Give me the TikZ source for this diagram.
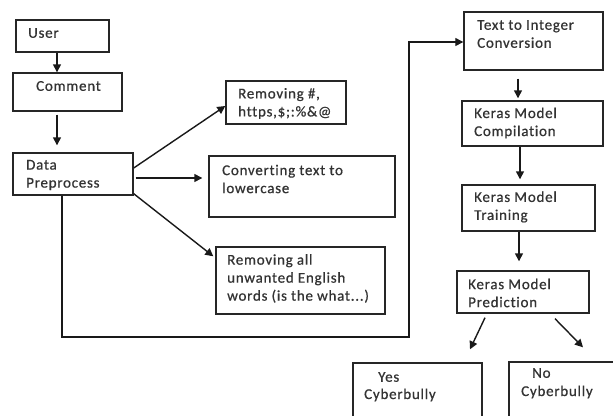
\documentclass[tikz,border=0pt]{standalone}
\usepackage{fontspec}
\setmainfont{Carlito}
\newfontfamily\boxfont{Carlito}[LetterSpace=5.0, FakeBold=0.6, Ligatures={NoCommon}]
\usetikzlibrary{arrows.meta}
\tikzset{
  box/.style={draw=black!85, line width=1.4pt, inner sep=0pt},
  txt/.style={anchor=west, align=left, inner sep=0pt, text=black!80,
    font=\boxfont\fontsize{15}{18}\selectfont},
  arr/.style={draw=black!90, line width=1.4pt, -{Triangle[length=8pt,width=8pt]}},
  conn/.style={draw=black!90, line width=1.3pt}
}
\newcommand{\bx}[5]{\node[box, minimum width={#4-#2}, minimum height={#5-#3}] (#1) at ({(#2+#4)/2},{(#3+#5)/2}) {};}
\begin{document}
\begin{tikzpicture}[x=1pt,y=-1pt]
\clip (0,0) rectangle (613,415);
\fill[white] (0,0) rectangle (613,415);
% boxes
\bx{user}{16}{20}{109}{52}
\bx{comment}{13}{73}{122}{111}
\bx{data}{13}{153}{133}{195}
\bx{remA}{226}{81}{346}{124}
\bx{conv}{209}{156}{395}{217}
\bx{remB}{216}{247}{385}{314}
\bx{tti}{464}{12}{603}{70}
\bx{comp}{462}{101}{603}{146}
\bx{train}{462}{185}{595}{231}
\bx{pred}{457}{271}{589}{313}
\bx{yes}{353}{363}{482}{430}
\bx{no}{509}{362}{630}{430}
% texts
\node[txt] (tuser) at (28,33) {User};
\node[txt] (tcomment) at (36,86) {Comment};
\node[txt] (tdata) at (26,175) {Data\\Preprocess};
\node[txt] (tremA) at (238,103.5) {Removing \#,\\https,\$;:\%\&@};
\node[txt] (tconv) at (222,179) {Converting text to\\lowercase};
\node[txt] (tremB) at (227,278.5) {Removing all\\unwanted English\\words (is the what...)};
\node[txt] (ttti) at (477,34) {Text to Integer\\Conversion};
\node[txt] (tcomp) at (474,123) {Keras Model\\Compilation};
\node[txt] (ttrain) at (474,207) {Keras Model\\Training};
\node[txt] (tpred) at (468,293) {Keras Model\\Prediction};
\node[txt] (tyes) at (378,377) {Yes};
\node[txt] (tyes2) at (364,395) {Cyberbully};
\node[txt] (tno) at (532,373) {No};
\node[txt] (tno2) at (521,392) {Cyberbully};
% connectors
\draw[arr] ([xshift=-5.5pt]user.south) -- ([xshift=-10.5pt]comment.north);
\draw[arr] ([xshift=-10.5pt,yshift=-3pt]comment.south) -- ([xshift=-16pt,yshift=7pt]data.north);
\draw[arr] ([yshift=6pt]data.east) -- ([yshift=-3.5pt]remA.west);
\draw[arr] ([xshift=2pt,yshift=-4pt]data.east) -- ([xshift=-6pt,yshift=8.5pt]conv.west);
\draw[arr] ([yshift=2pt]data.south east) -- ([xshift=-2pt,yshift=-10pt]remB.north west);
\coordinate (bend) at (409,337);
\draw[conn, -{Triangle[length=8pt,width=8pt]}] ([xshift=-11pt]data.south) |- (bend) |- ([yshift=-1pt]tti.west);
\draw[arr] ([xshift=-15.5pt,yshift=-8pt]tti.south) -- ([xshift=-14.5pt,yshift=2pt]comp.north);
\draw[arr] ([xshift=-12.5pt]comp.south) -- ([xshift=-8.5pt,yshift=5pt]train.north);
\draw[arr] ([xshift=-9.5pt]train.south) -- ([xshift=-4pt,yshift=9pt]pred.north);
\draw[arr] ([xshift=-38pt,yshift=-4pt]pred.south) -- ([xshift=52.5pt,yshift=13pt]yes.north);
\draw[arr] ([xshift=32pt,yshift=-5pt]pred.south) -- ([xshift=13.5pt,yshift=14pt]no.north);
\end{tikzpicture}
\end{document}
